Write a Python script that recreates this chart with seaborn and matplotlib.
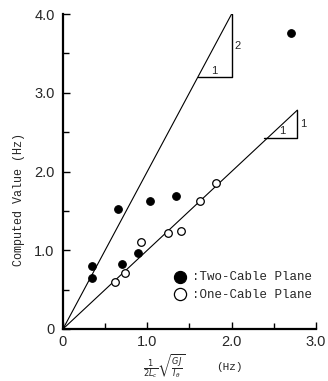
import pandas as pd
import matplotlib
matplotlib.use("Agg")
import matplotlib.pyplot as plt
import seaborn as sns

two_x = [0.34, 0.34, 0.65, 0.70, 0.89, 1.03, 1.34, 2.70]
two_y = [0.80, 0.65, 1.52, 0.82, 0.97, 1.63, 1.69, 3.76]
one_x = [0.62, 0.73, 0.93, 1.25, 1.40, 1.62, 1.82]
one_y = [0.60, 0.71, 1.10, 1.22, 1.24, 1.62, 1.86]

# reference lines (slope 2 and slope 1) with slope triangles
line2_x = [0, 2.0]
line2_y = [0, 4.0]
tri2_x = [1.6, 2.0, 2.0]
tri2_y = [3.2, 3.2, 4.0]
line1_x = [0, 2.78]
line1_y = [0, 2.78]
tri1_x = [2.39, 2.78, 2.78]
tri1_y = [2.43, 2.43, 2.78]

xticks = [0, 1, 2, 3]
xtick_labels = ["0", "1.0", "2.0", "3.0"]
yticks = [0, 1, 2, 3, 4]
ytick_labels = ["0", "1.0", "2.0", "3.0", "4.0"]

sns.set_style("ticks")
plt.rcParams["font.family"] = ["Liberation Sans", "DejaVu Sans"]

two = pd.DataFrame({"x": two_x, "y": two_y})
one = pd.DataFrame({"x": one_x, "y": one_y})

fig = plt.figure(figsize=(3.28, 3.81), dpi=100)
ax = fig.add_axes([0.192, 0.1365, 0.771, 0.8265])

ax.plot(line2_x, line2_y, color="black", lw=0.8)
ax.plot(tri2_x, tri2_y, color="black", lw=1.0)
ax.plot(line1_x, line1_y, color="black", lw=0.8)
ax.plot(tri1_x, tri1_y, color="black", lw=1.0)
ax.text(1.8, 3.22, "1", fontsize=8, ha="center", va="bottom")
ax.text(2.03, 3.6, "2", fontsize=8, ha="left", va="center")
ax.text(2.6, 2.45, "1", fontsize=8, ha="center", va="bottom")
ax.text(2.81, 2.6, "1", fontsize=8, ha="left", va="center")

sns.scatterplot(data=two, x="x", y="y", ax=ax, color="black", s=30,
                edgecolor="black", linewidth=0.8, label=":Two-Cable Plane", zorder=3)
sns.scatterplot(data=one, x="x", y="y", ax=ax, color="white", s=30,
                edgecolor="black", linewidth=0.9, label=":One-Cable Plane", zorder=3)

ax.set_xlim(0, 3)
ax.set_ylim(0, 4)
ax.set_xticks(xticks)
ax.set_xticklabels(xtick_labels, fontsize=10.5)
ax.set_yticks(yticks)
ax.set_yticklabels(ytick_labels, fontsize=10.5)
ax.set_xticks([0.5, 1.5, 2.5], minor=True)
ax.set_yticks([0.5, 1.5, 2.5, 3.5], minor=True)
ax.tick_params(which="both", direction="in", width=1.0, color="black")
ax.tick_params(which="major", length=5, pad=6)
ax.tick_params(axis="x", which="major", pad=4)
ax.tick_params(which="minor", length=4)
sns.despine(ax=ax)
for s in ["left", "bottom"]:
    ax.spines[s].set_linewidth(1.6)
    ax.spines[s].set_color("black")

ax.set_xlabel("")
ax.set_ylabel("Computed Value (Hz)", family="Liberation Mono", fontsize=8.5)
ax.yaxis.set_label_coords(-0.15, 0.41)
fig.text(0.50, 0.038, r"$\frac{1}{2L_c}\sqrt{\frac{GJ}{I_\theta}}$", fontsize=8.5,
         ha="center", va="center")
fig.text(0.70, 0.038, "(Hz)", family="Liberation Mono", fontsize=8,
         ha="center", va="center")

leg = ax.legend(loc="upper left", bbox_to_anchor=(0.37, 0.22), frameon=False,
                markerscale=1.6, handletextpad=-0.1, labelspacing=0.45,
                prop={"family": "Liberation Mono", "size": 9})

fig.savefig("out.png", dpi=100)
